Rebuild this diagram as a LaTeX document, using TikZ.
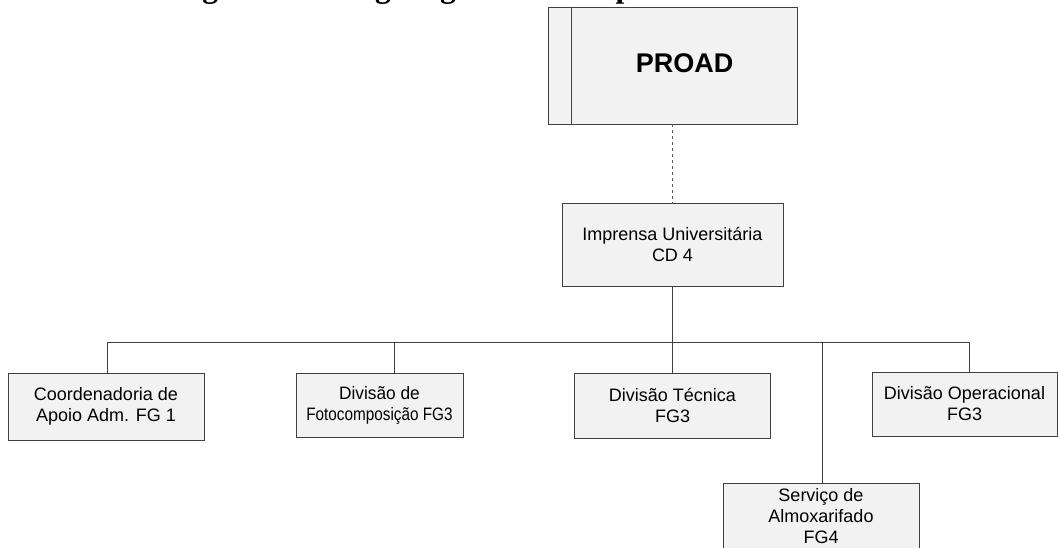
\documentclass[tikz,border=0pt]{standalone}
\usepackage{graphicx}
\usepackage{fontspec}
\setmainfont{Liberation Serif}
\newfontfamily\boxfont{Liberation Sans}
\begin{document}
\begin{tikzpicture}[x=1pt,y=1pt,
  line/.style={draw={rgb,255:red,64;green,64;blue,64}, line width=0.9pt},
  orgbox/.style={line, fill={rgb,255:red,242;green,242;blue,242}, align=center,
    inner sep=0pt, font=\boxfont\fontsize{18}{21}\selectfont},
  link/.style={line},
  dotlink/.style={draw={rgb,255:red,90;green,90;blue,90}, line width=0.8pt, dash pattern=on 3pt off 3pt}]
\useasboundingbox (0,0) rectangle (1058,-547);

% caption line above the chart
\node[anchor=base west, inner sep=0pt, font=\bfseries\fontsize{31.6}{38}\selectfont] (title)
  at (174,2.9) {Figura 13 – Organograma da Imprensa Universitária};

% top unit
\node[orgbox, minimum width=249pt, minimum height=117pt] (proad) at (672.5,-65.5) {};
\draw[line] ([xshift=24pt]proad.north west) -- ([xshift=24pt]proad.south west);
\node[inner sep=0pt, font=\boxfont\bfseries\fontsize{27}{32}\selectfont] (proadtxt) at (684.5,-63) {PROAD};

% main unit
\node[orgbox, minimum width=221pt, minimum height=83pt] (impr) at (672.5,-244.5)
  {Imprensa Universitária\\CD 4};

% subordinate units
\node[orgbox, minimum width=196pt, minimum height=67pt] (coord) at (106,-406.5)
  {Coordenadoria de\\Apoio Adm. FG 1};
\node[orgbox, minimum width=167pt, minimum height=64pt] (foto) at (379.5,-405)
  {\scalebox{0.96}[1]{Divisão de}\\\scalebox{0.85}[1]{Fotocomposição FG3}};
\node[orgbox, minimum width=196pt, minimum height=65pt] (tec) at (672.5,-405.5)
  {Divisão Técnica\\FG3};
\node[orgbox, minimum width=196pt, minimum height=67pt] (almox) at (821,-516.5)
  {Serviço de\\Almoxarifado\\FG4};
\node[orgbox, minimum width=185pt, minimum height=64pt] (oper) at (964.5,-404)
  {Divisão Operacional\\FG3};

% connectors
\draw[dotlink] (proad.south) -- (impr.north);
\coordinate (busL) at (107,-342);
\coordinate (busR) at (969,-342);
\draw[link] (busL) -- (busR);
\draw[link] (impr.south) -- (tec.north);
\draw[link] ([xshift=1pt]coord.north) -- (busL);
\draw[link] ([xshift=14.5pt]foto.north) -- ([xshift=14.5pt]foto.north |- busL);
\draw[link] ([xshift=1pt]almox.north) -- ([xshift=1pt]almox.north |- busL);
\draw[link] ([xshift=4.5pt]oper.north) -- (busR);
\end{tikzpicture}
\end{document}
